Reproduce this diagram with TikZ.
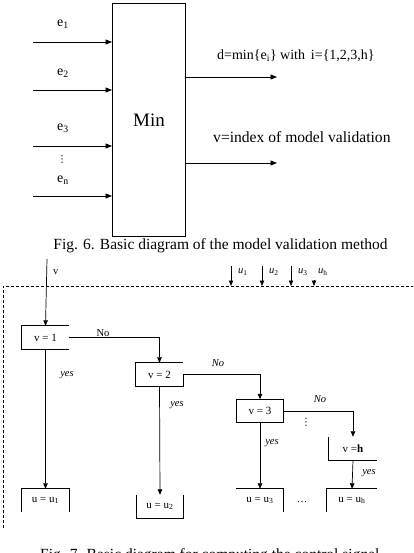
\documentclass[tikz,border=0pt]{standalone}
\usepackage{fontspec}
\setmainfont{Liberation Serif}
\newfontfamily\symfont{DejaVu Sans}
\usetikzlibrary{arrows.meta,positioning,calc}
\newcommand{\Sub}[1]{\textsubscript{#1}}

\begin{document}
\begin{tikzpicture}[x=1pt, y=-1pt,
    flow/.style={-{Triangle[length=6.5pt,width=5pt]}, line width=0.8pt},
    thinflow/.style={-{Triangle[length=5.5pt,width=4.5pt]}, line width=0.7pt},
    lbl/.style={font=\fontsize{14}{16}\selectfont, inner sep=0pt},
    figcap/.style={font=\fontsize{15.5}{18}\selectfont, inner sep=0pt},
    tiny/.style={font=\fontsize{10.5}{12}\selectfont, inner sep=0pt},
    dotsnode/.style={font=\symfont\fontsize{10}{10}\selectfont, inner sep=0pt},
    testbox/.style={minimum width=47pt, minimum height=23pt, inner sep=0pt, font=\fontsize{11}{13}\selectfont},
    edge/.style={line width=0.7pt}]
  \useasboundingbox (0,0) rectangle (413,553);
  \clip (0,0) rectangle (413,553);

  % Fig. 6
  \node[draw, line width=0.9pt, minimum width=73pt, minimum height=232.5pt, anchor=north west,
        font=\fontsize{19}{22}\selectfont] (min) at (112,3.5) {Min};
  \foreach \i/\y in {1/42,2/90,3/146,n/196}
    \coordinate (in\i) at (33,\y);
  \foreach \i in {1,2,3,n}
    \draw[flow] (in\i) -- (in\i -| min.west);
  \node[lbl] (e1) at (63,24) {e\Sub{1}};
  \node[lbl] (e2) at (63,73) {e\Sub{2}};
  \node[lbl] (e3) at (63,128) {e\Sub{3}};
  \node[dotsnode] (edots) at (62,159) {⋮};
  \node[lbl] (en) at (63,180) {e\Sub{n}};
  \coordinate (dout) at (277,77);
  \coordinate (vout) at (277,163);
  \draw[flow] (min.east |- dout) -- (dout);
  \draw[flow] (min.east |- vout) -- (vout);
  \node[lbl, anchor=west] (dtext) at (217,56) {d=min\{e\Sub{i}\} with\, i=\{1,2,3,h\}};
  \node[lbl, anchor=west, font=\fontsize{15.6}{18}\selectfont] (vtext) at (213,137) {v=index of model validation};
  \node[figcap, anchor=base] (fig6) at (220.5,249) {Fig. 6. Basic diagram of the model validation method};

  % Fig. 7
  \draw[dash pattern=on 3pt off 2pt, line width=0.6pt] (3,528) -- (3,286) -- (420,286);
  \coordinate (vin) at (47,259);
  \node[tiny, anchor=west] (vlbl) at (53,272) {v};
  \foreach \i/\x in {1/231,2/262,3/291}{
    \coordinate (ut\i) at (\x,266);
    \coordinate (ub\i) at (\x,286);
    \draw[thinflow] (ut\i) -- (ub\i);
    \node[tiny, anchor=west] (ul\i) at (\x+7,272) {\textit{u}\Sub{\i}};
  }
  \coordinate (uth) at (314,280);
  \coordinate (ubh) at (314,286);
  \draw[thinflow] (uth) -- (ubh);
  \node[tiny, anchor=west] (ulh) at (318,272) {\textit{u}\Sub{h}};

  \node[testbox] (v1) at (45.5,337.5) {v = 1};
  \node[testbox] (v2) at (159.5,374.5) {v = 2};
  \node[testbox] (v3) at (260,411) {v = 3};
  \node[testbox, minimum width=48pt] (vh) at (353,448.5) {v =\textbf{h}};
  \node[testbox] (u1) at (45.5,500.5) {u = u\Sub{1}};
  \node[testbox] (u2) at (160,506.5) {u = u\Sub{2}};
  \node[testbox] (u3) at (260,500.5) {u = u\Sub{3}};
  \node[testbox, minimum width=50pt] (uh) at (352,500.5) {u = u\Sub{h}};

  % box outlines, open where the picture leaves them open
  \draw[edge] (v1.north east) -- (v1.north west) -- (v1.south west) -- (v1.south east);
  \draw[edge] (v2.north east) -- (v2.north west) -- (v2.south west) -- (v2.south east) -- (v2.east);
  \draw[edge] (v3.north west) rectangle (v3.south east);
  \draw[edge] (vh.north west) -- (vh.south west) -- (vh.south east);
  \draw[edge] (u1.south west) -- (u1.north west) -- (u1.north east) -- (u1.south east);
  \draw[edge] (u2.north west) -- (u2.south west) -- (u2.south east) -- (u2.north east);
  \draw[edge] (u3.north west) -- (u3.north east) -- (u3.south east);
  \draw[edge] (uh.north east) -- (uh.north west) -- (uh.south west);

  \draw[thinflow] (vin) -- (v1.north);
  \draw[thinflow] (v1.east) -| (v2.north);
  \draw[thinflow] (v2.east) -| (v3.north);
  \draw[thinflow] (v3.east) -| (vh.north);
  \draw[thinflow] (v1.south) -- (u1.north);
  \draw[thinflow] (v2.south) -- (u2.north);
  \draw[thinflow] (v3.south) -- (u3.north);
  \draw[thinflow] (vh.south) -- (uh.north);

  \node[tiny] (no1) at (103,333) {No};
  \node[tiny] (no2) at (218,363) {\textit{No}};
  \node[tiny] (no3) at (320,399) {\textit{No}};
  \node[tiny] (yes1) at (67,375) {\textit{yes}};
  \node[tiny] (yes2) at (177,405) {\textit{yes}};
  \node[tiny] (yes3) at (272,443) {\textit{yes}};
  \node[tiny] (yesh) at (369,473) {\textit{yes}};
  \node[dotsnode] (vdots) at (306,422) {⋮};
  \node[tiny] (udots) at (302,502) {\dots};

  \node[figcap, anchor=base west] (fig7) at (40,559) {Fig. 7. Basic diagram for computing the control signal};
\end{tikzpicture}
\end{document}
